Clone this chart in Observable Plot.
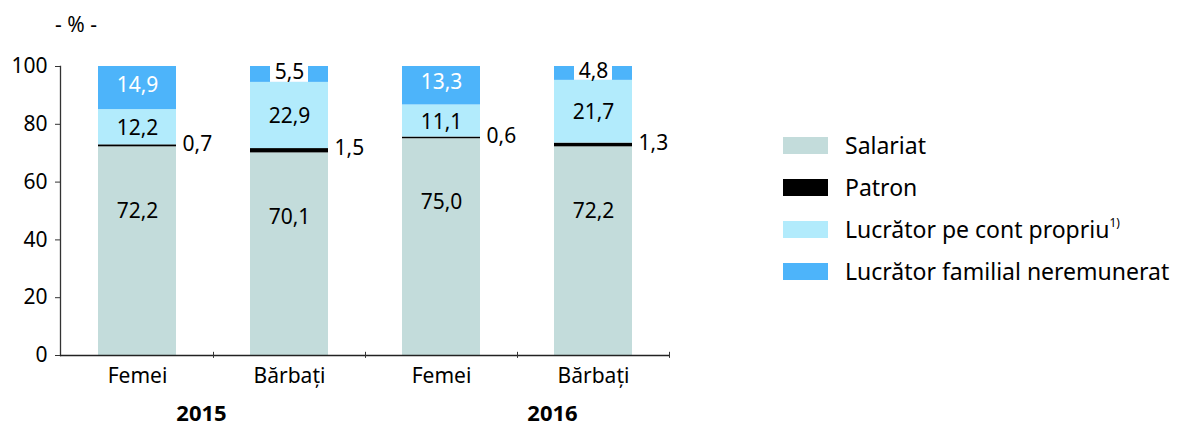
<!DOCTYPE html>
<html>
<head>
<meta charset="utf-8">
<script src="https://cdn.jsdelivr.net/npm/d3@7"></script>
<script src="https://cdn.jsdelivr.net/npm/@observablehq/plot@0.6"></script>
<style>
  html, body { margin: 0; padding: 0; background: #fff; }
  #wrap { position: relative; width: 1177px; height: 425px; font-family: "Noto Sans", sans-serif; color: #000; }
  #unit { position: absolute; left: 55px; top: 10px; font-size: 21px; }
  #legend { position: absolute; left: 783px; top: 124px; font-size: 23px; }
  .item { display: flex; align-items: center; height: 42px; }
  .sw { width: 45px; height: 17px; margin-right: 17px; flex: none; }
  .item sup { font-size: 12px; position: relative; top: -2px; }
</style>
</head>
<body>
<div id="wrap">
  <div id="unit">- % -</div>
  <div id="chart"></div>
  <div id="legend"></div>
</div>
<script>
const years = ["2015", "2015", "2016", "2016"];
const sexes = ["Femei", "Bărbați", "Femei", "Bărbați"];
const types = ["Salariat", "Patron", "Lucrător pe cont propriu", "Lucrător familial neremunerat"];
const salariat = [72.2, 70.1, 75.0, 72.2];
const patron = [0.7, 1.5, 0.6, 1.3];
const contPropriu = [12.2, 22.9, 11.1, 21.7];
const familial = [14.9, 5.5, 13.3, 4.8];
const colors = ["#c3dcdb", "#000000", "#b2ebfc", "#4db4fa"];
const yTicks = [0, 20, 40, 60, 80, 100];

const series = [salariat, patron, contPropriu, familial];
const keys = years.map((y, i) => `${y}-${sexes[i]}`);
const rows = [];
keys.forEach((k, i) => {
  let cum = 0;
  types.forEach((t, j) => {
    const v = series[j][i];
    rows.push({key: k, year: years[i], sex: sexes[i], type: t, value: v, y1: cum, y2: cum + v, mid: cum + v / 2});
    cum += v;
  });
});
const fmt = v => d3.format(".1f")(v).replace(".", ",");
const sexOf = k => sexes[keys.indexOf(k)];

const chart = Plot.plot({
  width: 1177,
  height: 425,
  marginLeft: 60,
  marginRight: 508,
  marginTop: 66,
  marginBottom: 70,
  style: {fontFamily: "Noto Sans, sans-serif", fontSize: "21px", color: "#000", background: "transparent", overflow: "visible"},
  x: {type: "band", domain: keys, paddingInner: 0.49, paddingOuter: 0.245, axis: null},
  y: {domain: [0, 100], axis: null},
  color: {domain: types, range: colors},
  marks: [
    Plot.barY(rows, {x: "key", y1: "y1", y2: "y2", fill: "type"}),
    Plot.barY(rows.filter(d => d.type === types[3] && d.value < 10), {x: "key", y1: "y1", y2: "y2", fill: "white", insetLeft: 20, insetRight: 20}),
    Plot.text(rows.filter(d => d.type === types[0]), {x: "key", y: "y2", dy: 64, text: d => fmt(d.value)}),
    Plot.text(rows.filter(d => d.type === types[2]), {x: "key", y: "mid", dy: 1, text: d => fmt(d.value)}),
    Plot.text(rows.filter(d => d.type === types[3] && d.value >= 10), {x: "key", y: "mid", dy: -3, fill: "white", text: d => fmt(d.value)}),
    Plot.text(rows.filter(d => d.type === types[3] && d.value < 10), {x: "key", y: "mid", dy: -2, text: d => fmt(d.value)}),
    Plot.text(rows.filter(d => d.type === types[1]), {x: "key", y: "mid", dx: 45, dy: -2, textAnchor: "start", text: d => fmt(d.value)}),
    Plot.axisY({ticks: yTicks, tickSize: 5, tickPadding: 8, label: null, stroke: "#333"}),
    Plot.frame({anchor: "left", stroke: "#333", strokeWidth: 1.3}),
    Plot.axisX({tickSize: 0, tickPadding: 13, tickFormat: sexOf, label: null}),
    Plot.ruleY([0], {stroke: "#222", strokeWidth: 1.6}),
    Plot.ruleX(keys, {x: d => d, dx: 76, y1: -1, y2: 1.1, stroke: "#333"}),
    Plot.text(["2015"], {x: () => keys[0], text: d => d, dx: 64, frameAnchor: "bottom", dy: 58, fontSize: 22, fontWeight: "bold", lineAnchor: "middle"}),
    Plot.text(["2016"], {x: () => keys[2], text: d => d, dx: 111, frameAnchor: "bottom", dy: 58, fontSize: 22, fontWeight: "bold", lineAnchor: "middle"})
  ]
});
document.getElementById("chart").appendChild(chart);

const legend = document.getElementById("legend");
types.forEach((t, i) => {
  const item = document.createElement("div");
  item.className = "item";
  const sw = document.createElement("span");
  sw.className = "sw";
  sw.style.background = colors[i];
  item.appendChild(sw);
  const label = document.createElement("span");
  label.textContent = t;
  if (i === 2) {
    const sup = document.createElement("sup");
    sup.textContent = "1)";
    label.appendChild(sup);
  }
  item.appendChild(label);
  legend.appendChild(item);
});
</script>
</body>
</html>
